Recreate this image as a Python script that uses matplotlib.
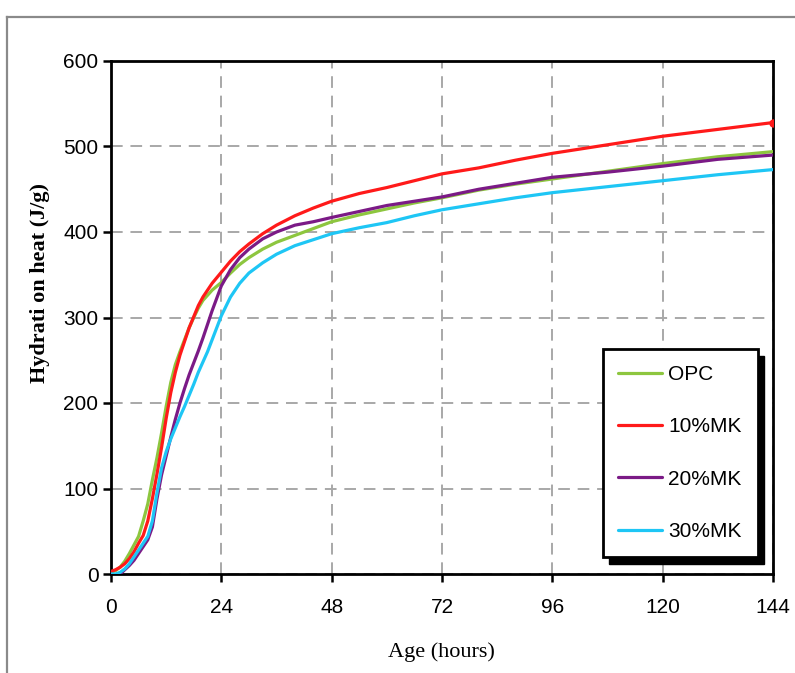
import matplotlib
matplotlib.use("Agg")
import matplotlib.pyplot as plt
from matplotlib.lines import Line2D
from matplotlib.patches import Rectangle

# ---- data ----
hours = [0, 1, 2, 3, 4, 5, 6, 7, 8, 9, 10, 11, 12, 13, 14, 15, 16, 17, 18, 19, 20,
         21, 22, 24, 26, 28, 30, 33, 36, 40, 44, 48, 54, 60, 66, 72, 80, 88, 96,
         108, 120, 132, 144]

opc = [2, 4, 8, 15, 24, 34, 44, 62, 82, 110, 136, 165, 196, 224, 245, 260, 274, 288, 300, 311, 320,
       326, 332, 341, 352, 362, 370, 380, 388, 396, 404, 412, 420, 427, 434, 440, 449, 456, 462,
       471, 480, 488, 494]

mk10 = [3, 5, 8, 12, 18, 26, 36, 45, 62, 88, 117, 148, 182, 212, 236, 256, 272, 288, 301, 314, 324,
        332, 340, 353, 366, 377, 386, 398, 408, 419, 428, 436, 445, 452, 460, 468, 475, 484, 492,
        502, 512, 520, 528]

mk20 = [0, -2, 0, 5, 10, 16, 24, 32, 40, 55, 88, 116, 138, 160, 181, 200, 217, 233, 247, 261, 276,
        292, 308, 337, 356, 370, 380, 392, 400, 408, 412, 417, 424, 431, 436, 441, 450, 457, 464,
        470, 477, 485, 490]

mk30 = [0, 0, 2, 6, 12, 20, 28, 36, 44, 62, 95, 124, 143, 158, 171, 184, 196, 209, 222, 236, 248,
        260, 274, 302, 324, 340, 352, 364, 374, 384, 391, 398, 405, 411, 419, 426, 433, 440, 446,
        453, 460, 467, 473]

series_labels = ["OPC", "10%MK", "20%MK", "30%MK"]
series_values = [opc, mk10, mk20, mk30]
series_colors = ["#8dc63f", "#ff1a1a", "#7b1a86", "#1ec6f5"]

xticks = [0, 24, 48, 72, 96, 120, 144]
yticks = [0, 100, 200, 300, 400, 500, 600]

# ---- figure ----
W, H = 795, 673
fig = plt.figure(figsize=(W / 100, H / 100), dpi=100)
fig.patch.set_facecolor("white")

ax_l, ax_r, ax_t, ax_b = 111, 773, 61, 574
ax = fig.add_axes([ax_l / W, 1 - ax_b / H, (ax_r - ax_l) / W, (ax_b - ax_t) / H])

for vals, lab, col in zip(series_values, series_labels, series_colors):
    ax.plot(hours, vals, color=col, lw=2.3, label=lab, solid_capstyle="round", zorder=3)
ax.plot(hours[-1], mk10[-1], "o", color=series_colors[1], ms=5, zorder=3)

ax.set_xlim(0, 144)
ax.set_ylim(0, 600)
ax.set_xticks(xticks)
ax.set_yticks(yticks)
ax.grid(True, color="#a8a8a8", lw=1.4, linestyle=(0, (6, 4)), zorder=0)
ax.set_axisbelow(True)

for s in ax.spines.values():
    s.set_linewidth(2.0)
    s.set_color("black")

tick_family = ["Liberation Sans"]
ax.tick_params(axis="both", direction="out", length=6, width=1.8, color="black")
ax.tick_params(axis="x", pad=11)
ax.tick_params(axis="y", pad=3)
for lbl in ax.get_xticklabels() + ax.get_yticklabels():
    lbl.set_fontfamily(tick_family)
    lbl.set_fontsize(15)

# axis labels
fig.text(40 / W, 1 - 283 / H, "Hydrati on heat (J/g)", rotation=90, ha="center", va="center",
         family="Liberation Serif", fontweight="bold", fontsize=16)
fig.text(441 / W, 1 - 652 / H, "Age (hours)", ha="center", va="center",
         family="Liberation Serif", fontsize=16)

# legend
leg = ax.legend(loc="lower left", bbox_to_anchor=(0.743, 0.034), borderaxespad=0,
                frameon=True, fancybox=False, framealpha=1, edgecolor="black",
                prop={"family": tick_family, "size": 15},
                handlelength=2.1, handletextpad=0.3, labelspacing=1.6, borderpad=0.75)
leg.get_frame().set_linewidth(2.0)
leg.set_zorder(6)

fig.canvas.draw()
bb = leg.get_window_extent().transformed(ax.transAxes.inverted())
ax.add_patch(Rectangle((bb.x0 + 6 / 662, bb.y0 - 7 / 513), bb.width, bb.height,
                       transform=ax.transAxes, facecolor="black", edgecolor="black",
                       clip_on=False, zorder=5))

# outer gray frame
fig.add_artist(Line2D([7 / W, 1], [1 - 17 / H, 1 - 17 / H], color="#8a8a8a", lw=1.6))
fig.add_artist(Line2D([7 / W, 7 / W], [0, 1 - 17 / H], color="#8a8a8a", lw=1.6))

fig.savefig("out.png", dpi=100)
